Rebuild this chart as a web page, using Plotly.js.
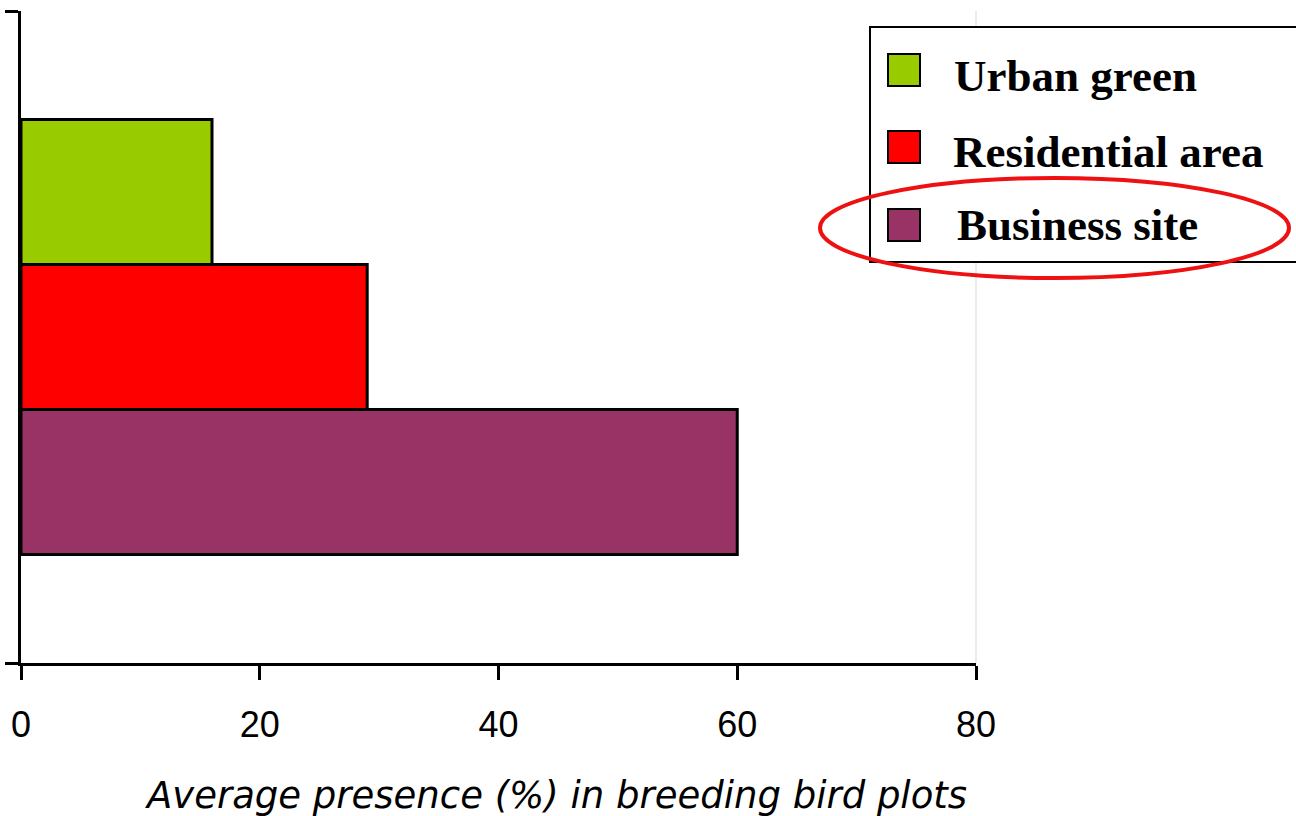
<!DOCTYPE html>
<html>
<head>
<meta charset="utf-8">
<script src="https://cdn.plot.ly/plotly-3.0.1.min.js"></script>
<style>html,body{margin:0;padding:0;background:#fff}#chart{width:1296px;height:816px}</style>
</head>
<body>
<div id="chart"></div>
<script>
// ---- data ----
var categories = ['Urban green', 'Residential area', 'Business site'];
var values = [16, 29, 60];
var colors = ['#99cc00', '#ff0000', '#993366'];
var xTicks = [0, 20, 40, 60, 80];
var xTickLabels = ['0', '20', '40', '60', '80'];
var axisTitle = 'Average presence (%) in breeding bird plots';

// ---- geometry helpers (pixel -> paper) ----
var W = 1296, H = 816;
var L = 21, R = 976, T = 11, B = 663;
function px(x) { return (x - L) / (R - L); }
function py(y) { return (B - y) / (B - T); }

// bars: first trace drawn lowest, so add in reverse order
var traces = [];
for (var i = categories.length - 1; i >= 0; i--) {
  traces.push({
    type: 'bar', orientation: 'h', name: categories[i],
    x: [values[i]], y: [0],
    marker: {color: colors[i], line: {color: '#000', width: 3}},
    hoverinfo: 'x+name'
  });
}

// manual legend
var shapes = [
  {type: 'rect', xref: 'paper', yref: 'paper', x0: px(870), x1: px(1298), y0: py(262), y1: py(27),
   line: {color: '#000', width: 2}, fillcolor: '#fff', layer: 'above'}
];
var annotations = [];
var sqTop = [54, 131, 209];
var txtY = [76, 152, 225];
var txtX = [952, 951, 955];
for (var k = 0; k < categories.length; k++) {
  shapes.push({type: 'rect', xref: 'paper', yref: 'paper', x0: px(888), x1: px(920),
    y0: py(sqTop[k] + 32), y1: py(sqTop[k]), line: {color: '#000', width: 2}, fillcolor: colors[k], layer: 'above'});
  annotations.push({xref: 'paper', yref: 'paper', x: px(txtX[k]), y: py(txtY[k]), xanchor: 'left', yanchor: 'middle',
    text: '<b>' + categories[k] + '</b>', showarrow: false,
    font: {family: 'Liberation Serif', size: 45, color: '#000'}});
}
// highlight ellipse
shapes.push({type: 'circle', xref: 'paper', yref: 'paper', x0: px(820), x1: px(1289), y0: py(278), y1: py(178),
  line: {color: '#ee1111', width: 4}, fillcolor: 'rgba(0,0,0,0)', layer: 'above'});
// light grey plot edge at 80
shapes.push({type: 'line', xref: 'paper', yref: 'paper', x0: 1, x1: 1, y0: 0, y1: 1,
  line: {color: '#d9d9d9', width: 1}, layer: 'below'});

// axis title
annotations.push({xref: 'paper', yref: 'paper', x: px(556), y: py(795), xanchor: 'center', yanchor: 'middle',
  text: axisTitle, showarrow: false,
  font: {family: 'DejaVu Sans', size: 37, color: '#000', style: 'italic'}});

var layout = {
  width: W, height: H,
  margin: {l: L, r: W - R, t: T, b: H - B, pad: 0},
  paper_bgcolor: '#fff', plot_bgcolor: '#fff',
  showlegend: false,
  barmode: 'group', bargap: 0.333, bargroupgap: 0,
  xaxis: {
    range: [0, 80], tickvals: xTicks, ticktext: xTickLabels,
    ticks: 'outside', ticklen: 14, tickwidth: 3, tickcolor: '#000',
    showline: true, linecolor: '#000', linewidth: 3,
    showgrid: false, zeroline: false,
    tickfont: {family: 'Liberation Sans', size: 36, color: '#000'},
    ticklabelstandoff: 14
  },
  xaxis2: {
    overlaying: 'x', range: [0, 80], tickvals: [20, 40, 60],
    showgrid: true, gridcolor: '#000', gridwidth: 3,
    showticklabels: false, ticks: '', showline: false, zeroline: false
  },
  yaxis: {
    range: [-0.5, 0.5], tickvals: [-0.5, 0.5], showticklabels: false,
    ticks: 'outside', ticklen: 13, tickwidth: 3, tickcolor: '#000',
    showline: true, linecolor: '#000', linewidth: 3,
    showgrid: false, zeroline: false
  },
  shapes: shapes,
  annotations: annotations
};

Plotly.newPlot('chart', traces, layout, {displayModeBar: false, staticPlot: true});
</script>
</body>
</html>
